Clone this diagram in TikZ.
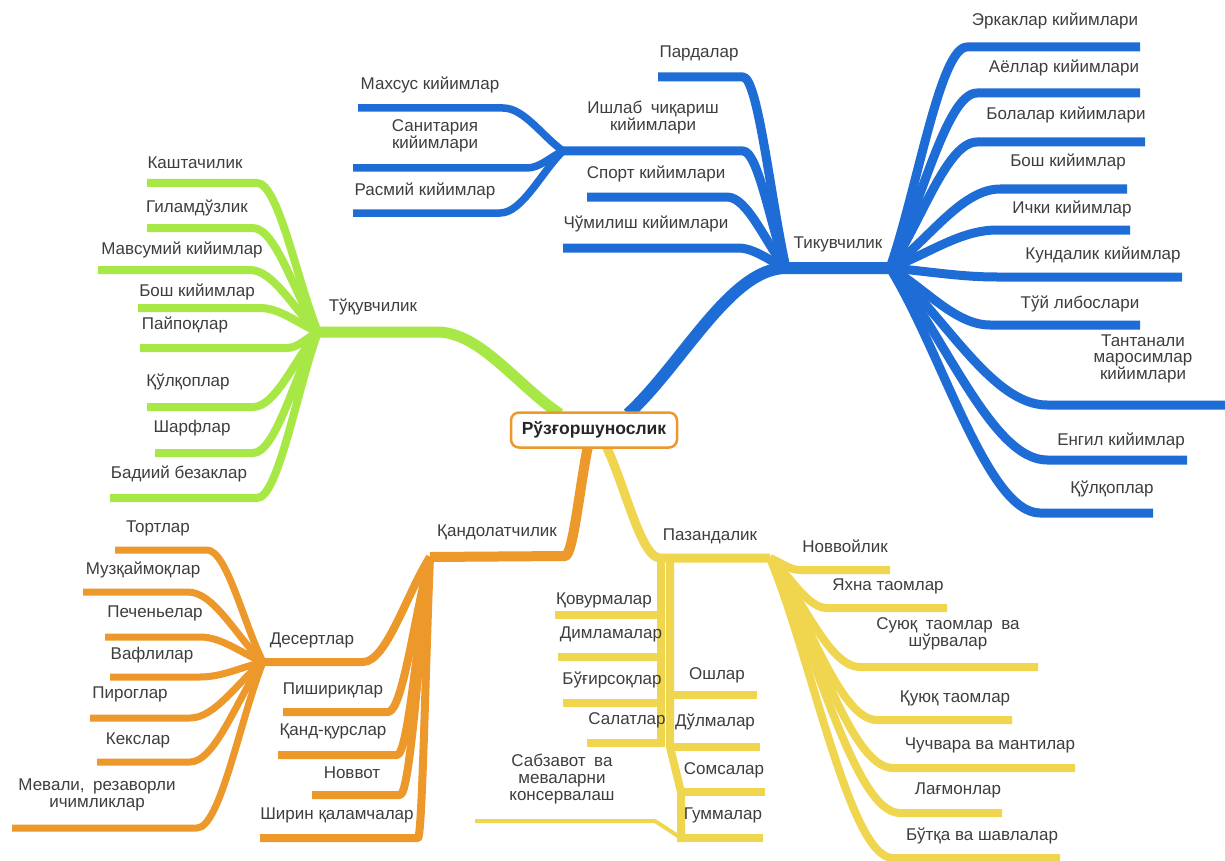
\documentclass[tikz,border=0pt]{standalone}
\usepackage{fontspec}
\setmainfont{Liberation Sans}
\usetikzlibrary{calc}
\definecolor{cblue}{RGB}{30,108,214}
\definecolor{cgreen}{RGB}{168,232,70}
\definecolor{corange}{RGB}{236,152,42}
\definecolor{cyellow}{RGB}{240,214,78}
\definecolor{ctext}{RGB}{62,62,62}
\tikzset{
  br/.style={to path={let \p1=(\tikztostart), \p2=(\tikztotarget) in
     .. controls ({\x1+0.35*(\x2-\x1)},{\y1+0.35*(\y2-\y1)}) and ({\x2-0.35*(\x2-\x1)},\y2) .. (\tikztotarget)}},
  lbl/.style={text=ctext, font=\fontsize{17}{17}\selectfont, align=center, inner sep=0pt},
  bmain/.style={draw=cblue, line width=12pt},
  bchild/.style={draw=cblue, line width=9pt},
  bgrand/.style={draw=cblue, line width=7.5pt},
  gmain/.style={draw=cgreen, line width=11pt},
  gchild/.style={draw=cgreen, line width=8pt},
  omain/.style={draw=corange, line width=10pt},
  ochild/.style={draw=corange, line width=8pt},
  ogrand/.style={draw=corange, line width=7pt},
  ymain/.style={draw=cyellow, line width=9pt},
  ychild/.style={draw=cyellow, line width=8pt},
  rootbox/.style={draw=corange, line width=2.5pt, rounded corners=8pt, fill=white,
     minimum width=166pt, minimum height=35pt, inner sep=0pt,
     font=\bfseries\fontsize{17.5}{20}\selectfont, text=black!85}
}
\newcommand{\mmbr}[5]{\coordinate (#2N) at (#4); \coordinate (#2F) at (#5); \draw[#1] (#3) to[br] (#2N) -- (#2F);}
\begin{document}
\begin{tikzpicture}[x=1pt,y=-1pt,line join=round]
\useasboundingbox[fill=white] (0,0) rectangle (1225,861);

% ---------- main branches ----------
\coordinate (rB) at (628,414);
\coordinate (rG) at (560,414);
\coordinate (rO) at (588,446);
\coordinate (rY) at (606,446);
\coordinate (L) at (786,268);
\coordinate (R) at (890,268);
\draw[bmain] (rB) to[br] (L) -- (R);
\coordinate (G) at (318,332);
\coordinate (gN) at (437,332);
\draw[gmain] (rG) to[br] (gN) -- (G);
\coordinate (O) at (430,557);
\coordinate (oN) at (565,556);
\draw[omain] (rO) to[br] (oN) -- (O);
\coordinate (Y) at (770,558);
\coordinate (yN) at (660,558);
\draw[ymain] (rY) to[br] (yN) -- (Y);

% ---------- blue: left of Тикувчилик ----------
\mmbr{bchild}{pard}{L}{743,77}{658,77}
\mmbr{bchild}{ishlab}{L}{743,151}{563,151}
\mmbr{bchild}{sport}{L}{727,197}{587,197}
\mmbr{bchild}{chum}{L}{738,248}{563,248}
\mmbr{bgrand}{mahsus}{ishlabF}{503,108}{358,108}
\mmbr{bgrand}{sanit}{ishlabF}{527,168}{353,168}
\mmbr{bgrand}{rasmiy}{ishlabF}{500,213}{353,213}

% ---------- blue: right of Тикувчилик ----------
\mmbr{bchild}{erk}{R}{967,47}{1140,47}
\mmbr{bchild}{ayol}{R}{977,93}{1140,93}
\mmbr{bchild}{bola}{R}{977,142}{1145,142}
\mmbr{bchild}{boshb}{R}{1000,189}{1127,189}
\mmbr{bchild}{ichki}{R}{997,230}{1130,230}
\mmbr{bchild}{kund}{R}{997,277}{1182,277}
\mmbr{bchild}{tuy}{R}{990,325}{1140,325}
\mmbr{bchild}{tant}{R}{1047,405}{1225,405}
\mmbr{bchild}{yengil}{R}{1047,460}{1187,460}
\mmbr{bchild}{qulb}{R}{1040,513}{1153,513}

% ---------- green ----------
\mmbr{gchild}{kasht}{G}{257,183}{147,183}
\mmbr{gchild}{gilam}{G}{253,228}{147,228}
\mmbr{gchild}{mavs}{G}{250,270}{98,270}
\mmbr{gchild}{boshg}{G}{260,308}{138,308}
\mmbr{gchild}{payp}{G}{287,348}{140,348}
\mmbr{gchild}{qulg}{G}{253,407}{147,407}
\mmbr{gchild}{sharf}{G}{253,453}{155,453}
\mmbr{gchild}{badiy}{G}{257,498}{110,498}

% ---------- orange ----------
\mmbr{ochild}{desert}{O}{363,662}{263,662}
\mmbr{ochild}{pish}{O}{388,712}{283,712}
\mmbr{ochild}{qandk}{O}{397,755}{278,755}
\mmbr{ochild}{novvot}{O}{400,795}{312,795}
\mmbr{ochild}{shirin}{O}{418,838}{260,838}
\mmbr{ogrand}{tort}{desertF}{207,550}{115,550}
\mmbr{ogrand}{muz}{desertF}{188,592}{83,592}
\mmbr{ogrand}{pech}{desertF}{200,637}{105,637}
\mmbr{ogrand}{vafli}{desertF}{200,677}{110,677}
\mmbr{ogrand}{pirog}{desertF}{190,718}{90,718}
\mmbr{ogrand}{keks}{desertF}{190,762}{97,762}
\mmbr{ogrand}{meva}{desertF}{197,828}{12,828}

% ---------- yellow: right ----------
\mmbr{ychild}{novvoy}{Y}{800,570}{890,570}
\mmbr{ychild}{yaxna}{Y}{827,608}{947,608}
\mmbr{ychild}{suyuq}{Y}{860,667}{1038,667}
\mmbr{ychild}{quyuq}{Y}{877,720}{1012,720}
\mmbr{ychild}{chuch}{Y}{893,768}{1075,768}
\mmbr{ychild}{lagm}{Y}{900,813}{1002,813}
\mmbr{ychild}{butqa}{Y}{893,858}{1060,858}

% ---------- yellow: hanging bars ----------
\coordinate (ylT) at (661,556);
\coordinate (ylB) at (661,747);
\coordinate (yrT) at (670,556);
\coordinate (yrM) at (670,747);
\coordinate (yrK) at (681,792);
\coordinate (yrB) at (681,842);
\draw[ychild] (ylT) -- (ylB);
\draw[ychild] (yrT) -- (yrM) -- (yrK) -- (yrB);
\coordinate (qovurJ) at (661,615);  \coordinate (qovurF) at (555,615);
\coordinate (dimlJ) at (661,657);   \coordinate (dimlF) at (558,657);
\coordinate (bugirJ) at (661,703);  \coordinate (bugirF) at (563,703);
\coordinate (salatJ) at (661,743);  \coordinate (salatF) at (587,743);
\coordinate (oshJ) at (670,695);    \coordinate (oshF) at (757,695);
\coordinate (dulmaJ) at (670,747);  \coordinate (dulmaF) at (760,747);
\coordinate (somsaJ) at (681,792);  \coordinate (somsaF) at (765,792);
\coordinate (gummaJ) at (681,838);  \coordinate (gummaF) at (763,838);
\coordinate (sabzK) at (655,821);   \coordinate (sabzF) at (475,821);
\draw[ychild] (qovurJ) -- (qovurF);
\draw[ychild] (dimlJ) -- (dimlF);
\draw[ychild] (bugirJ) -- (bugirF);
\draw[ychild] (salatJ) -- (salatF);
\draw[ychild] (oshJ) -- (oshF);
\draw[ychild] (dulmaJ) -- (dulmaF);
\draw[ychild] (somsaJ) -- (somsaF);
\draw[ychild] (gummaJ) -- (gummaF);
\draw[ychild, line width=4pt] (gummaJ) -- (sabzK) -- (sabzF);

% ---------- root ----------
\node[rootbox] (root) at (594,430) {Рўзғоршунослик};

% ---------- labels: blue ----------
\node[lbl] (tik) at (838,244) {Тикувчилик};
\node[lbl] (pard) at (699,53) {Пардалар};
\node[lbl] (ishlab) at (653,118) {Ишлаб\enspace чиқариш\\кийимлари};
\node[lbl] (sport) at (656,174) {Спорт кийимлари};
\node[lbl] (chum) at (646,224) {Чўмилиш кийимлари};
\node[lbl] (mahsus) at (430,85) {Махсус кийимлар};
\node[lbl] (sanit) at (435,136) {Санитария\\кийимлари};
\node[lbl] (rasmiy) at (425,191) {Расмий кийимлар};
\node[lbl] (erk) at (1055,21) {Эркаклар кийимлари};
\node[lbl] (ayol) at (1064,68) {Аёллар кийимлари};
\node[lbl] (bola) at (1066,115) {Болалар кийимлари};
\node[lbl] (boshb) at (1068,162) {Бош кийимлар};
\node[lbl] (ichki) at (1072,209) {Ички кийимлар};
\node[lbl] (kund) at (1103,255) {Кундалик кийимлар};
\node[lbl] (tuy) at (1080,304) {Тўй либослари};
\node[lbl, font=\fontsize{17}{15.5}\selectfont] (tant) at (1143,359) {Тантанали\\маросимлар\\кийимлари};
\node[lbl] (yengil) at (1121,441) {Енгил кийимлар};
\node[lbl] (qulb) at (1112,489) {Қўлқоплар};

% ---------- labels: green ----------
\node[lbl] (tuq) at (373,307) {Тўқувчилик};
\node[lbl] (kasht) at (195,163) {Каштачилик};
\node[lbl] (gilam) at (197,208) {Гиламдўзлик};
\node[lbl] (mavs) at (182,250) {Мавсумий кийимлар};
\node[lbl] (boshg) at (197,292) {Бош кийимлар};
\node[lbl] (payp) at (185,325) {Пайпоқлар};
\node[lbl] (qulg) at (188,382) {Қўлқоплар};
\node[lbl] (sharf) at (192,428) {Шарфлар};
\node[lbl] (badiy) at (179,474) {Бадиий безаклар};

% ---------- labels: orange ----------
\node[lbl] (qand) at (497,532) {Қандолатчилик};
\node[lbl] (desert) at (312,640) {Десертлар};
\node[lbl] (pish) at (333,690) {Пишириқлар};
\node[lbl] (qandk) at (333,731) {Қанд-қурслар};
\node[lbl] (novvot) at (352,773) {Новвот};
\node[lbl] (shirin) at (337,815) {Ширин қаламчалар};
\node[lbl] (tort) at (158,528) {Тортлар};
\node[lbl] (muz) at (143,570) {Музқаймоқлар};
\node[lbl] (pech) at (155,613) {Печеньелар};
\node[lbl] (vafli) at (152,655) {Вафлилар};
\node[lbl] (pirog) at (130,694) {Пироглар};
\node[lbl] (keks) at (138,740) {Кекслар};
\node[lbl] (meva) at (97,795) {Мевали,\enspace резаворли\\ичимликлар};

% ---------- labels: yellow ----------
\node[lbl] (pazand) at (710,536) {Пазандалик};
\node[lbl] (qovur) at (604,600) {Қовурмалар};
\node[lbl] (diml) at (611,634) {Димламалар};
\node[lbl] (bugir) at (612,680) {Бўғирсоқлар};
\node[lbl] (salat) at (627,720) {Салатлар};
\node[lbl] (osh) at (717,675) {Ошлар};
\node[lbl] (dulma) at (715,722) {Дўлмалар};
\node[lbl] (somsa) at (724,770) {Сомсалар};
\node[lbl] (gumma) at (723,815) {Гуммалар};
\node[lbl] (sabz) at (562,779) {Сабзавот\enspace ва\\меваларни\\консервалаш};
\node[lbl] (novvoy) at (845,546) {Новвойлик};
\node[lbl] (yaxna) at (888,586) {Яхна таомлар};
\node[lbl] (suyuq) at (948,634) {Суюқ\enspace таомлар\enspace ва\\шўрвалар};
\node[lbl] (quyuq) at (955,698) {Қуюқ таомлар};
\node[lbl] (chuch) at (990,745) {Чучвара ва мантилар};
\node[lbl] (lagm) at (958,790) {Лағмонлар};
\node[lbl] (butqa) at (982,836) {Бўтқа ва шавлалар};
\end{tikzpicture}
\end{document}
